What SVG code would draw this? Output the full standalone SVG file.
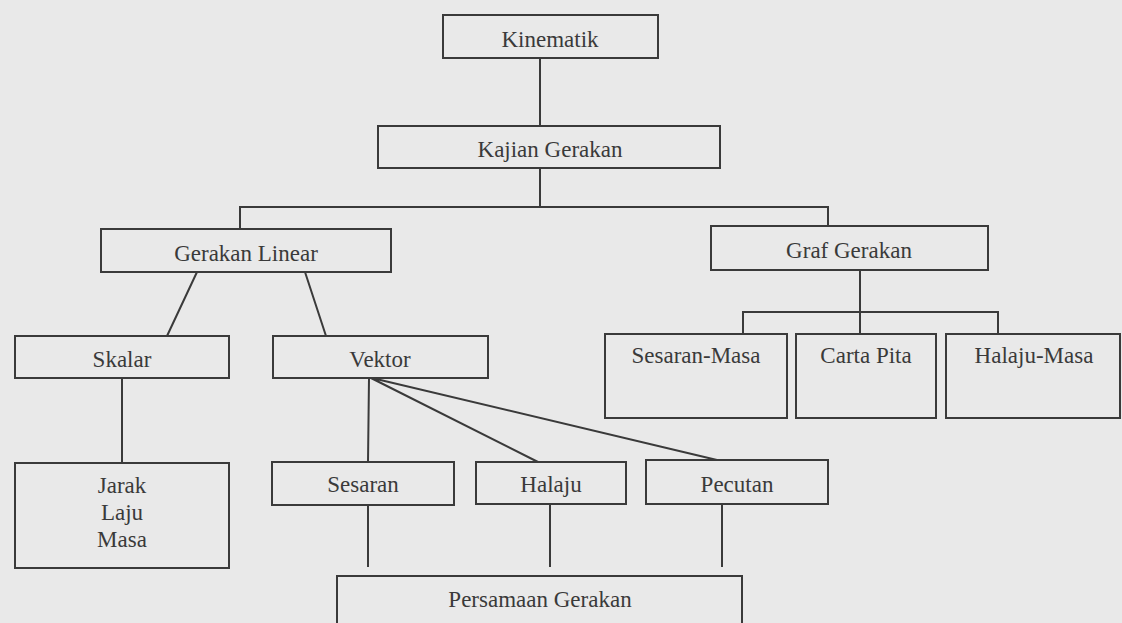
<svg xmlns="http://www.w3.org/2000/svg" width="1122" height="623" viewBox="0 0 1122 623">
<style>
.box{fill:none;stroke:#3a3a3a;stroke-width:2}
.ln{stroke:#3a3a3a;stroke-width:2;fill:none}
.t{font-family:"Liberation Serif","Times New Roman",serif;font-size:23px;fill:#3a3a3a;text-anchor:middle}
</style>
<rect x="0" y="0" width="1122" height="623" fill="#e9e9e9"/>
<g id="connectors">
<path class="ln" d="M540 58V126"/>
<path class="ln" d="M540 168V207M240 229V207H828V226"/>
<path class="ln" d="M197 272L167 336M305 272L326 336"/>
<path class="ln" d="M122 378V463"/>
<path class="ln" d="M369 378L368 462M371 378L538 462M372 378L717 460"/>
<path class="ln" d="M860 270V333M743 334V312H998V334"/>
<path class="ln" d="M368 505V567M550 504V567M722 504V567"/>
</g>
<g id="kinematik"><rect class="box" x="443" y="15" width="215" height="43"/><text class="t" x="550" y="47">Kinematik</text></g>
<g id="kajian-gerakan"><rect class="box" x="378" y="126" width="342" height="42"/><text class="t" x="550" y="157">Kajian Gerakan</text></g>
<g id="gerakan-linear"><rect class="box" x="101" y="229" width="290" height="43"/><text class="t" x="246" y="261">Gerakan Linear</text></g>
<g id="graf-gerakan"><rect class="box" x="711" y="226" width="277" height="44"/><text class="t" x="849" y="258">Graf Gerakan</text></g>
<g id="skalar"><rect class="box" x="15" y="336" width="214" height="42"/><text class="t" x="122" y="367">Skalar</text></g>
<g id="vektor"><rect class="box" x="273" y="336" width="215" height="42"/><text class="t" x="380" y="367">Vektor</text></g>
<g id="sesaran-masa"><rect class="box" x="605" y="334" width="182" height="84"/><text class="t" x="696" y="363">Sesaran-Masa</text></g>
<g id="carta-pita"><rect class="box" x="796" y="334" width="140" height="84"/><text class="t" x="866" y="363">Carta Pita</text></g>
<g id="halaju-masa"><rect class="box" x="946" y="334" width="174" height="84"/><text class="t" x="1034" y="363">Halaju-Masa</text></g>
<g id="jarak-laju-masa"><rect class="box" x="15" y="463" width="214" height="105"/><text class="t" x="122" y="493">Jarak</text><text class="t" x="122" y="520">Laju</text><text class="t" x="122" y="547">Masa</text></g>
<g id="sesaran"><rect class="box" x="272" y="462" width="182" height="43"/><text class="t" x="363" y="492">Sesaran</text></g>
<g id="halaju"><rect class="box" x="476" y="462" width="150" height="42"/><text class="t" x="551" y="492">Halaju</text></g>
<g id="pecutan"><rect class="box" x="646" y="460" width="182" height="44"/><text class="t" x="737" y="492">Pecutan</text></g>
<g id="persamaan-gerakan"><rect class="box" x="337" y="576" width="405" height="70"/><text class="t" x="540" y="607">Persamaan Gerakan</text></g>
</svg>
